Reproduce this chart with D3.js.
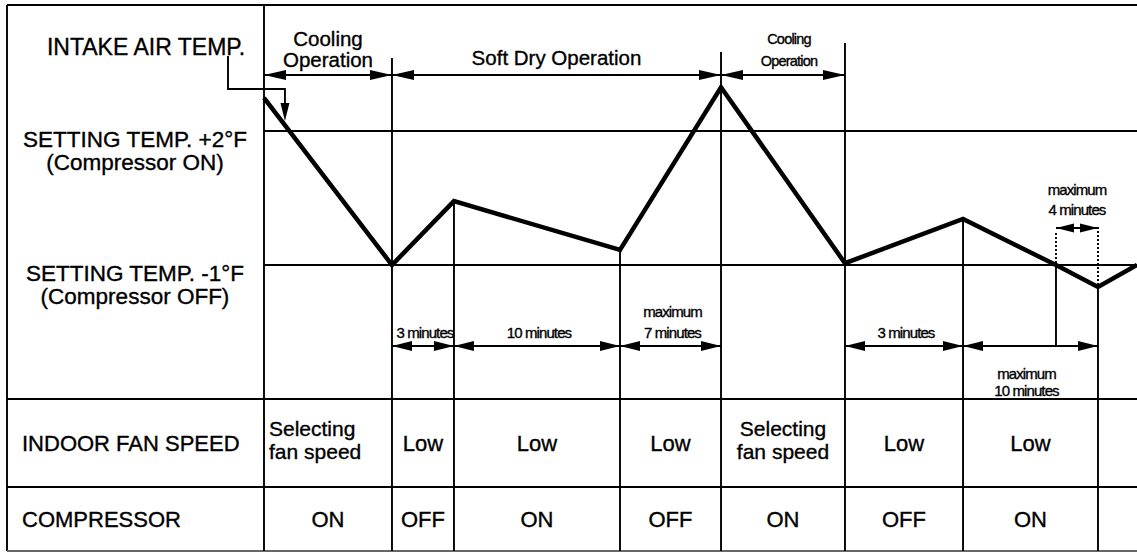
<!DOCTYPE html>
<html>
<head>
<meta charset="utf-8">
<script src="https://cdn.jsdelivr.net/npm/d3@7"></script>
<style>
  body { margin: 0; background: #fff; }
  svg { display: block; }
  text { font-family: "Liberation Sans", Arial, Helvetica, sans-serif; fill: #000; stroke: #000; stroke-width: 0.35px; }
</style>
</head>
<body>
<div id="chart"></div>
<script>
// schematic time units (0..100) and temperature offset from setting temp (°F)
const curveTime = [0, 14.66, 21.76, 40.78, 52.35, 66.55, 80.07, 90.72, 95.53, 100]
const curveTemp = [2.74, -1, 0.43, -0.66, 2.98, -0.96, 0.03, -1, -1.49, -1]

const columnEdges = [0, 14.66, 21.76, 40.78, 52.35, 66.55, 80.07, 95.53]
const fanSpeed = [['Selecting', 'fan speed'], ['Low'], ['Low'], ['Low'], ['Selecting', 'fan speed'], ['Low'], ['Low']]
const compressor = ['ON', 'OFF', 'ON', 'OFF', 'ON', 'OFF', 'ON']

const phaseLabels = [['Cooling', 'Operation'], ['Soft Dry Operation'], ['Cooling', 'Operation']]
const phaseStart = [0, 14.66, 52.35]
const phaseEnd = [14.66, 52.35, 66.55]

const durationLabels = [['3 minutes'], ['10 minutes'], ['maximum', '7 minutes'], ['3 minutes'], ['maximum', '10 minutes']]
const durationStart = [14.66, 21.76, 40.78, 66.55, 80.07]
const durationEnd = [21.76, 40.78, 52.35, 80.07, 95.53]

const tailLabels = ['maximum', '4 minutes']
const tailStart = 90.72
const tailEnd = 95.53

const levels = [2, -1]
const levelLabels = [['SETTING TEMP. +2°F', '(Compressor ON)'], ['SETTING TEMP. -1°F', '(Compressor OFF)']]
const rowLabels = ['INDOOR FAN SPEED', 'COMPRESSOR']

const width = 1137
const height = 555
const frameLeft = 7
const frameTop = 5
const frameBottom = 551
const tableTop = 399
const tableMid = 487

const x = d3.scaleLinear().domain([0, 100]).range([264, 1137])
const y = d3.scaleLinear().domain([-1, 2]).range([265, 131])

const svg = d3.select('#chart')
    .append('svg')
    .attr('width', width)
    .attr('height', height)

svg.append('rect')
    .attr('width', width)
    .attr('height', height)
    .attr('fill', '#fff')

const thin = 1.9

const hline = (y0, x0, x1, color = '#000') => svg.append('line')
    .attr('x1', x0).attr('x2', x1).attr('y1', y0).attr('y2', y0)
    .attr('stroke', color).attr('stroke-width', thin)

const vline = (x0, y0, y1, dash) => svg.append('line')
    .attr('x1', x0).attr('x2', x0).attr('y1', y0).attr('y2', y1)
    .attr('stroke', '#000').attr('stroke-width', thin)
    .attr('stroke-dasharray', dash || null)

const head = (tx, ty, dir, len = 20, half = 5) => {
    // dir: 1 = pointing right, -1 = pointing left, 'down'
    let pts
    if (dir === 'down') pts = [[tx, ty], [tx - half, ty - len], [tx + half, ty - len]]
    else pts = [[tx, ty], [tx - dir * len, ty - half], [tx - dir * len, ty + half]]
    svg.append('path')
        .attr('d', 'M' + pts.map(p => p.join(',')).join('L') + 'Z')
        .attr('fill', '#000')
}

const dimArrow = (x0, x1, yy, len, half) => {
    hline(yy, x0, x1)
    head(x0, yy, -1, len, half)
    head(x1, yy, 1, len, half)
}

const curveAt = t => {
    const i = curveTime.indexOf(t)
    return y(curveTemp[i])
}

// frame
vline(frameLeft, frameTop, frameBottom)
hline(frameTop, frameLeft, width)
hline(tableTop, frameLeft, width)
hline(tableMid, frameLeft, width)
hline(frameBottom, frameLeft, width, '#666')

// setting temperature levels
levels.forEach(l => hline(y(l), x(0), width))

// column edges
const edgeTops = [frameTop, 58, null, null, 52, 43, null, null]
columnEdges.forEach((t, i) => {
    const y0 = edgeTops[i] !== null ? edgeTops[i] : curveAt(t)
    vline(x(t), y0, frameBottom)
})

// dotted guides for the 4 minute limit
vline(x(tailStart), 233, curveAt(tailStart), '2,2')
vline(x(tailEnd), 227, curveAt(tailEnd), '2,2')
vline(x(tailStart), curveAt(tailStart), 346)

// temperature curve
const line = d3.line()
    .x(d => x(d[0]))
    .y(d => y(d[1]))

svg.append('path')
    .datum(curveTime.map((t, i) => [t, curveTemp[i]]))
    .attr('d', line)
    .attr('fill', 'none')
    .attr('stroke', '#000')
    .attr('stroke-width', 4.5)
    .attr('stroke-linejoin', 'miter')

// intake air temp callout
svg.append('text')
    .attr('x', 146).attr('y', 55)
    .attr('text-anchor', 'middle')
    .attr('font-size', 23)
    .text('INTAKE AIR TEMP.')

const calloutX = x(2.4)
svg.append('path')
    .attr('d', `M228,56V89H${calloutX}V104`)
    .attr('fill', 'none')
    .attr('stroke', '#000')
    .attr('stroke-width', thin)
head(calloutX, 121, 'down', 18, 4.5)

// level labels
levelLabels.forEach((lines, i) => {
    lines.forEach((s, j) => {
        svg.append('text')
            .attr('x', 135)
            .attr('y', y(levels[i]) + 16 + j * 23)
            .attr('text-anchor', 'middle')
            .attr('font-size', 22.5)
            .text(s)
    })
})

// phase arrows in header
phaseLabels.forEach((lines, i) => {
    const x0 = x(phaseStart[i])
    const x1 = x(phaseEnd[i])
    dimArrow(x0, x1, 75, 22, 5)
    const small = i === 2
    const cx = (x0 + x1) / 2 + (small ? 6 : 0)
    lines.forEach((s, j) => {
        const yy = lines.length === 1 ? 65 : (small ? 44 + j * 22 : 46 + j * 21)
        svg.append('text')
            .attr('x', cx)
            .attr('y', yy)
            .attr('text-anchor', 'middle')
            .attr('font-size', small ? 14.5 : 20.5)
            .attr('letter-spacing', small ? -0.8 : 0)
            .text(s)
    })
})

// duration arrows
durationLabels.forEach((lines, i) => {
    const x0 = x(durationStart[i])
    const x1 = x(durationEnd[i])
    dimArrow(x0, x1, 346, 20, 5)
    const below = i === durationLabels.length - 1
    const cx = (x0 + x1) / 2 + (below ? -4 : 2)
    lines.forEach((s, j) => {
        const yy = below
            ? 379 + j * 17
            : 338 - (lines.length - 1 - j) * 21
        svg.append('text')
            .attr('x', cx)
            .attr('y', yy)
            .attr('text-anchor', 'middle')
            .attr('font-size', 15)
            .attr('letter-spacing', -0.9)
            .text(s)
    })
})

// 4 minute limit arrow
dimArrow(x(tailStart), x(tailEnd), 228, 18, 4.5)
tailLabels.forEach((s, j) => {
    svg.append('text')
        .attr('x', (x(tailStart) + x(tailEnd)) / 2)
        .attr('y', 195 + j * 20)
        .attr('text-anchor', 'middle')
        .attr('font-size', 15)
        .attr('letter-spacing', -0.9)
        .text(s)
})

// table
rowLabels.forEach((s, i) => {
    svg.append('text')
        .attr('x', 22)
        .attr('y', i === 0 ? 451 : 527)
        .attr('font-size', 22)
        .text(s)
})

fanSpeed.forEach((lines, i) => {
    const x0 = x(columnEdges[i])
    const cx = (x0 + x(columnEdges[i + 1])) / 2
    lines.forEach((s, j) => {
        svg.append('text')
            .attr('x', i === 0 ? x0 + 5 : cx)
            .attr('y', lines.length === 1 ? 451 : 436 + j * 23)
            .attr('text-anchor', i === 0 ? 'start' : 'middle')
            .attr('font-size', lines.length === 1 ? 22 : 21)
            .text(s)
    })
})

compressor.forEach((s, i) => {
    const cx = (x(columnEdges[i]) + x(columnEdges[i + 1])) / 2
    svg.append('text')
        .attr('x', cx)
        .attr('y', 527)
        .attr('text-anchor', 'middle')
        .attr('font-size', 22)
        .text(s)
})
</script>
</body>
</html>
